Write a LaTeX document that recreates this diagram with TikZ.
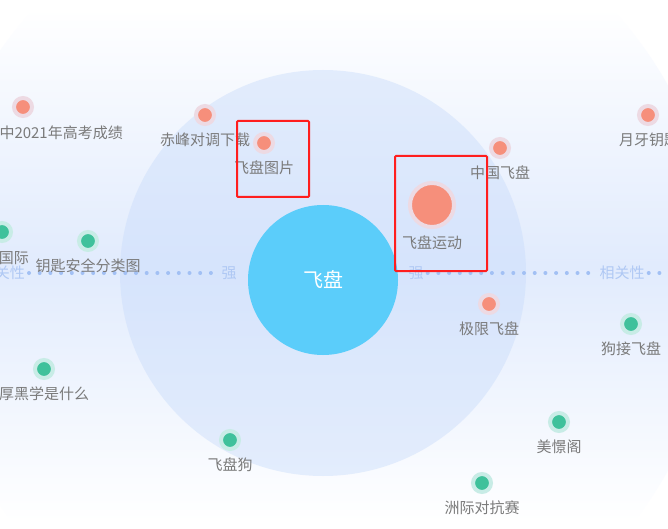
\documentclass[tikz,border=0pt]{standalone}
\usepackage{fontspec}
\newfontfamily\cjk{Noto Sans CJK SC}
\usetikzlibrary{positioning}
\definecolor{relBg}{HTML}{E1EBFD}
\definecolor{relInner}{HTML}{C9DCFB}
\definecolor{relCore}{HTML}{5BCDFA}
\definecolor{relOrange}{HTML}{F68F7B}
\definecolor{relOrangeHalo}{HTML}{EDDAE3}
\definecolor{relGreen}{HTML}{3FC19B}
\definecolor{relGreenHalo}{HTML}{C8ECE6}
\definecolor{relLine}{HTML}{A2C0F4}
\definecolor{relText}{HTML}{AFC8F4}
\definecolor{relLabel}{HTML}{7A7A7A}
\definecolor{relMark}{HTML}{FF1E1E}

\begin{document}
\begin{tikzpicture}[
    x=1pt, y=-1pt,
    every node/.style={font=\cjk},
    % --- node styles ---
    dot/.style={circle, inner sep=0pt, minimum size=18pt, line width=4pt},
    hotdot/.style={dot, fill=relOrange, draw=relOrangeHalo},
    colddot/.style={dot, fill=relGreen, draw=relGreenHalo},
    bigdot/.style={hotdot, minimum size=44pt},
    lbl/.style={inner sep=0pt, text=relLabel,
                font=\cjk\fontsize{15pt}{17pt}\selectfont},
    axis/.style={inner sep=4pt, text=relText,
                 font=\cjk\fontsize{15pt}{17pt}\selectfont},
    % --- line styles ---
    dotline/.style={relLine, line width=4pt, line cap=round,
                    dash pattern=on 0pt off 10.7pt},
    markbox/.style={draw=relMark, line width=2pt, rounded corners=1pt},
]

\useasboundingbox (0,0) rectangle (668,529);
\clip (0,0) rectangle (668,529);
\fill[white] (0,0) rectangle (668,529);

% ===== BACKGROUND RINGS =====================================================
\begin{scope}
    \clip (323,278) circle[radius=395pt];
    \shade[top color=white, bottom color=white, middle color=relBg]
        (0,8) rectangle (668,522);
\end{scope}
\fill[relInner, opacity=0.45] (323,273) circle[radius=203pt];

% ===== AXIS ================================================================
\node[axis, anchor=east] (relL) at (29,273) {相关性};
\node[axis] (strL) at (229,273) {强};
\node[axis] (strR) at (416,273) {强};
\node[axis] (relR) at (622,273) {相关性};
\coordinate (lineend) at (675,273);

\draw[dotline] (relL.east) -- (strL.west);
\draw[dotline] (strR.east) -- (relR.west);
\draw[dotline] (relR.east) -- (lineend);

% -- core --
\node[circle, fill=relCore, minimum size=150pt, inner sep=0pt, text=white,
      font=\cjk\fontsize{20pt}{22pt}\selectfont] (core) at (323,280) {飞盘};

% ===== STRONG (orange) ======================================================
\node[hotdot] (gaokao) at (23,107) {};
\node[lbl, anchor=east] at (123,133) {中2021年高考成绩};

\node[hotdot] (chifeng) at (205,115) {};
\node[lbl, below=6.5pt of chifeng] {赤峰对调下载};

\node[hotdot] (tupian) at (264,143) {};
\node[lbl, below=6.5pt of tupian] {飞盘图片};

\node[hotdot] (zhongguo) at (500,148) {};
\node[lbl, below=6.5pt of zhongguo] {中国飞盘};

\node[bigdot] (yundong) at (432,205) {};
\node[lbl, below=6.5pt of yundong] {飞盘运动};

\node[hotdot] (yueya) at (648,115) {};
\node[lbl, anchor=west] at (619,140) {月牙钥匙};

\node[hotdot] (jixian) at (489,304) {};
\node[lbl, below=6.5pt of jixian] {极限飞盘};

% ===== WEAK (green) =========================================================
\node[colddot] (guoji) at (2,232) {};
\node[lbl, anchor=east] at (29,258) {国际};

\node[colddot] (yaoshi) at (88,241) {};
\node[lbl, below=6.5pt of yaoshi] {钥匙安全分类图};

\node[colddot] (goujie) at (631,324) {};
\node[lbl, below=6.5pt of goujie] {狗接飞盘};

\node[colddot] (houhei) at (44,369) {};
\node[lbl, below=6.5pt of houhei] {厚黑学是什么};

\node[colddot] (pangou) at (230,440) {};
\node[lbl, below=6.5pt of pangou] {飞盘狗};

\node[colddot] (meijing) at (559,422) {};
\node[lbl, below=6.5pt of meijing] {美憬阁};

\node[colddot] (zhouji) at (482,483) {};
\node[lbl, below=6.5pt of zhouji] {洲际对抗赛};

% ===== MARKS ================================================================
\draw[markbox] (237,121) rectangle (309,197);
\draw[markbox] (395,156) rectangle (487,271);

\end{tikzpicture}
\end{document}
